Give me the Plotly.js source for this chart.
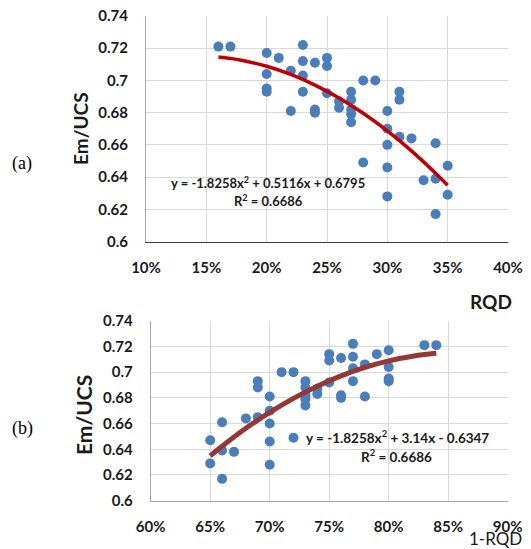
<!DOCTYPE html>
<html><head><meta charset="utf-8">
<script src="https://cdn.plot.ly/plotly-3.0.1.min.js"></script>
<style>html,body{margin:0;padding:0;background:#fff}#chart{width:531px;height:549px}</style>
</head><body><div id="chart"></div>
<script>
// Panel (a): RQD vs Em/UCS
const rqd = [0.16,0.17,0.20,0.20,0.20,0.20,0.21,0.22,0.22,0.23,0.23,0.23,0.23,0.24,0.24,0.24,0.25,0.25,0.25,0.26,0.26,0.27,0.27,0.27,0.27,0.27,0.28,0.28,0.29,0.30,0.30,0.30,0.30,0.30,0.31,0.31,0.31,0.32,0.33,0.34,0.34,0.34,0.35,0.35];
const emucsA = [0.721,0.721,0.717,0.704,0.695,0.693,0.714,0.706,0.681,0.722,0.712,0.703,0.693,0.711,0.682,0.680,0.714,0.709,0.692,0.687,0.683,0.693,0.688,0.682,0.679,0.674,0.700,0.649,0.700,0.681,0.670,0.660,0.646,0.628,0.693,0.688,0.665,0.664,0.638,0.661,0.639,0.617,0.647,0.629];
// Panel (b): 1-RQD vs Em/UCS
const oneMinusRqd = [0.84,0.83,0.80,0.80,0.80,0.80,0.79,0.78,0.78,0.77,0.77,0.77,0.77,0.76,0.76,0.76,0.75,0.75,0.75,0.74,0.74,0.73,0.73,0.73,0.73,0.73,0.72,0.72,0.71,0.70,0.70,0.70,0.70,0.70,0.69,0.69,0.69,0.68,0.67,0.66,0.66,0.66,0.65,0.65];
const emucsB = [0.721,0.721,0.717,0.704,0.695,0.693,0.714,0.706,0.681,0.722,0.712,0.703,0.693,0.711,0.682,0.680,0.714,0.709,0.692,0.687,0.683,0.693,0.688,0.682,0.679,0.674,0.700,0.649,0.700,0.681,0.670,0.660,0.646,0.628,0.693,0.688,0.665,0.664,0.638,0.661,0.639,0.617,0.647,0.629];
// Trend lines (polynomial fits as shown)
const trendRqd = [0.16,0.17,0.18,0.20,0.22,0.24,0.26,0.28,0.30,0.32,0.34,0.35];
const trendA = [0.7146,0.7137,0.7124,0.7088,0.7037,0.6971,0.6891,0.6796,0.6687,0.6563,0.6424,0.6349];
const trendOneMinus = [0.84,0.83,0.82,0.80,0.78,0.76,0.74,0.72,0.70,0.68,0.66,0.65];
const trendB = [0.7146,0.7137,0.7124,0.7088,0.7037,0.6971,0.6891,0.6796,0.6687,0.6563,0.6424,0.6349];
// Tick labels
const yTickVals = [0.6,0.62,0.64,0.66,0.68,0.7,0.72,0.74];
const yTickText = ['0.6','0.62','0.64','0.66','0.68','0.7','0.72','0.74'];
const xTickValsA = [0.10,0.15,0.20,0.25,0.30,0.35,0.40];
const xTickTextA = ['10%','15%','20%','25%','30%','35%','40%'];
const xTickValsB = [0.60,0.65,0.70,0.75,0.80,0.85,0.90];
const xTickTextB = ['60%','65%','70%','75%','80%','85%','90%'];

const W = 531, H = 549;
const px = x => x / W, py = y => 1 - y / H;
const tickFont = {family: 'Lato, "Open Sans", sans-serif', size: 15, color: '#1a1a1a', weight: 'bold'};
const blue = '#4a7ebb';

const traces = [
  {x: rqd, y: emucsA, xaxis: 'x', yaxis: 'y', type: 'scatter', mode: 'markers',
   marker: {color: blue, size: 10}},
  {x: trendRqd, y: trendA, xaxis: 'x', yaxis: 'y', type: 'scatter', mode: 'lines',
   line: {color: '#c00000', width: 3.5, shape: 'spline'}},
  {x: oneMinusRqd, y: emucsB, xaxis: 'x2', yaxis: 'y2', type: 'scatter', mode: 'markers',
   marker: {color: blue, size: 10}},
  {x: trendOneMinus, y: trendB, xaxis: 'x2', yaxis: 'y2', type: 'scatter', mode: 'lines',
   line: {color: '#953735', width: 5, shape: 'spline'}}
];

const gridColor = '#d9d9d9';
const baseX = {showgrid: true, gridcolor: gridColor, gridwidth: 1, zeroline: false, ticks: '',
  tickfont: tickFont, showline: true, fixedrange: true, ticklabelstandoff: 12};
const baseY = {showgrid: true, gridcolor: gridColor, gridwidth: 1, zeroline: false, ticks: '',
  tickfont: tickFont, showline: true, linecolor: '#a6a6a6', fixedrange: true, ticklabelstandoff: 14,
  tickvals: yTickVals, ticktext: yTickText, range: [0.6, 0.74]};

const annFont = (s, bold) => ({family: 'Lato, "Open Sans", sans-serif', size: s, color: '#1a1a1a', weight: bold ? 'bold' : 'normal'});
const ann = (text, x, y, font, extra) => Object.assign({text, x: px(x), y: py(y), xref: 'paper', yref: 'paper',
  showarrow: false, xanchor: 'center', yanchor: 'middle', font}, extra || {});

const layout = {
  width: W, height: H,
  margin: {l: 0, r: 0, t: 0, b: 0},
  paper_bgcolor: '#fff', plot_bgcolor: '#fff',
  showlegend: false,
  xaxis: Object.assign({}, baseX, {domain: [px(146), px(508)], range: [0.10, 0.40],
    tickvals: xTickValsA, ticktext: xTickTextA, linecolor: '#404040', linewidth: 1.5, anchor: 'y'}),
  yaxis: Object.assign({}, baseY, {domain: [py(241.5), py(16)], anchor: 'x'}),
  xaxis2: Object.assign({}, baseX, {domain: [px(150.7), px(507.7)], range: [0.60, 0.90],
    tickvals: xTickValsB, ticktext: xTickTextB, linecolor: '#a6a6a6', linewidth: 1, anchor: 'y2'}),
  yaxis2: Object.assign({}, baseY, {domain: [py(500.7), py(320.7)], anchor: 'x2'}),
  annotations: [
    ann('(a)', 22, 163, {family: '"Liberation Serif", "Times New Roman", serif', size: 18, color: '#000'}),
    ann('(b)', 22.5, 428, {family: '"Liberation Serif", "Times New Roman", serif', size: 18, color: '#000'}),
    ann('Em/UCS', 80, 129, annFont(19, true), {textangle: -90}),
    ann('Em/UCS', 83, 415, annFont(21, true), {textangle: -90}),
    ann('RQD', 491, 301.7, annFont(19, true)),
    ann('1-RQD', 524, 538, annFont(17, false), {xanchor: 'right'}),
    ann('y = -1.8258x<sup>2</sup> + 0.5116x + 0.6795', 268.3, 183, annFont(13, true)),
    ann('R<sup>2</sup> = 0.6686', 268, 200.7, annFont(13, true)),
    ann('y = -1.8258x<sup>2</sup> + 3.14x - 0.6347', 397.5, 436.7, annFont(13.5, true)),
    ann('R<sup>2</sup> = 0.6686', 396.7, 456, annFont(13.5, true))
  ]
};

Plotly.newPlot('chart', traces, layout, {displayModeBar: false, staticPlot: true});
</script>
</body></html>
